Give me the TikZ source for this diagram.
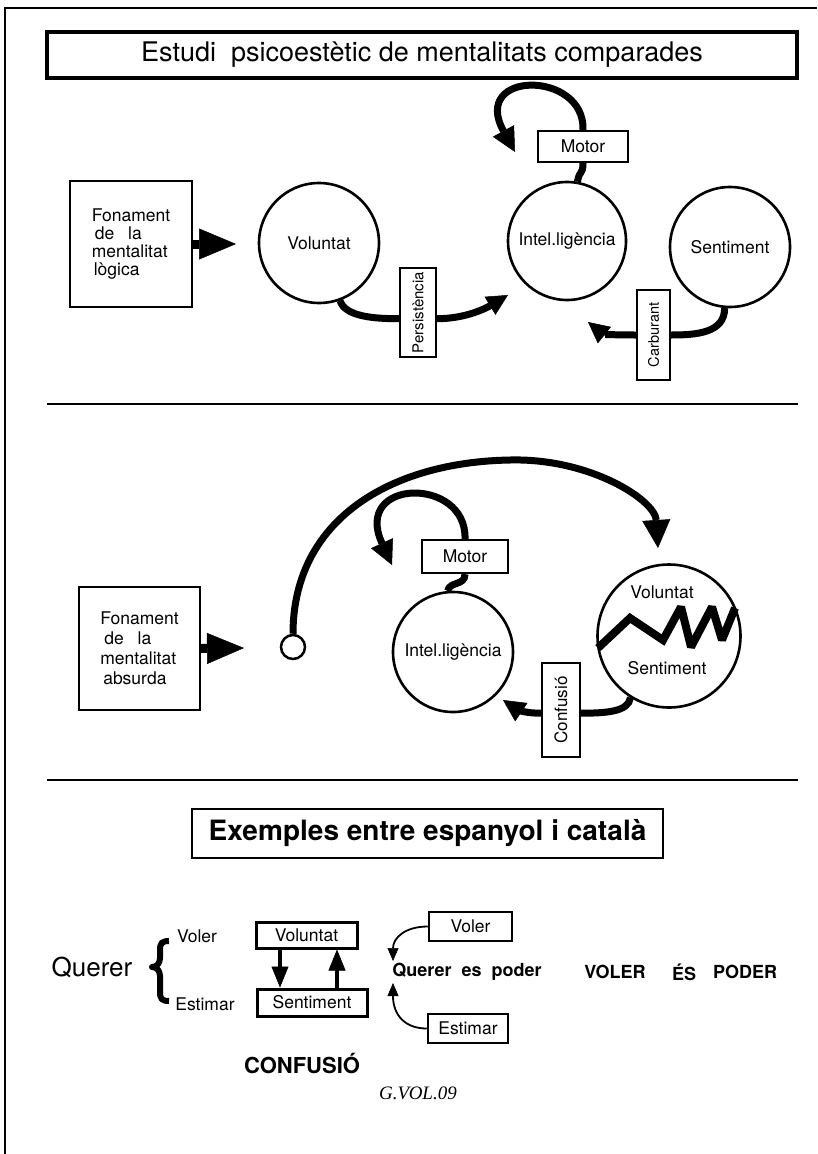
\documentclass[tikz,border=0pt]{standalone}
\usepackage{fontspec}
\setmainfont{TeX Gyre Heros}
\newfontfamily\gvolfont{Liberation Serif}
\usetikzlibrary{arrows.meta}
\begin{document}
\begin{tikzpicture}[x=1pt,y=-1pt,
  circ/.style={circle,draw,line width=2.6pt,inner sep=0pt,minimum size=#1},
  bx/.style={rectangle,draw,line width=2.2pt,inner sep=0pt,align=center},
  txt/.style={inner sep=0pt,font=\fontsize{17.5}{18}\selectfont},
  boldtxt/.style={inner sep=0pt,font=\bfseries\fontsize{18}{18}\selectfont},
  fat/.style={line width=7pt},
  fattip/.style={-{Triangle[length=#1,width=#1,line width=0.5pt]}},
  bigtri/.style={line width=9pt,-{Triangle[length=37pt,width=31pt,line width=0.5pt]}},
  thinarr/.style={line width=1.8pt,-{Triangle[length=13pt,width=11pt,line width=0.5pt]}},
  medarr/.style={line width=4pt,-{Triangle[length=21pt,width=17pt,line width=0.5pt]}},
]
\useasboundingbox (0,0) rectangle (817,1154);
\fill[white] (0,0) rectangle (817,1154);
% page edge
\draw[line width=1.5pt] (5,1154) -- (5,8) -- (817,8);

% title
\node[bx,line width=3.5pt,minimum width=750pt,minimum height=46pt,font=\fontsize{27}{30}\selectfont] (title) at (422,55) {Estudi\ \ psicoestètic de mentalitats comparades};

% ---------- section 1
\node[bx,minimum width=122pt,minimum height=126pt,align=left,font=\fontsize{17.5}{18}\selectfont] (fon1) at (131,244) {Fonament\\\hspace*{3pt}de\hspace{14pt}la\\mentalitat\\\hspace*{2pt}lògica};
\coordinate (a1) at (236,244);
\draw[bigtri] (fon1.east) -- (a1);

\node[circ=120pt,txt] (vol1) at (319,243) {Voluntat};
\node[bx,minimum width=36pt,minimum height=89pt,font=\fontsize{15}{15}\selectfont] (pers) at (418,312.5) {\rotatebox{90}{Persistència}};
\coordinate (p1) at (508,295);
\draw[fat] (vol1.-70) .. controls +(5,16) and +(-25,0) .. (pers.198);
\draw[fat,fattip=21pt] (pers.-18) .. controls +(30,0) and +(-20,12) .. (p1);

\node[circ=118pt,txt] (int1) at (567,241) {Intel.ligència};
\node[bx,minimum width=90pt,minimum height=31pt,txt] (mot1) at (583,146.5) {Motor};
\draw[fat] (int1.80) .. controls +(2,-12) and +(0,12) .. (mot1.south);
\coordinate (m1) at (515,152);
\draw[fat,fattip=24pt] (mot1.north) .. controls (585,70) and (470,70) .. (m1);

\node[circ=120pt,txt] (sen1) at (730,247) {Sentiment};
\node[bx,minimum width=33pt,minimum height=90pt,font=\fontsize{14.5}{15}\selectfont] (carb) at (653.5,335) {\rotatebox{90}{Carburant}};
\draw[fat] (sen1.-95) .. controls +(0,25) and +(25,0) .. (carb.east);
\coordinate (c1) at (588,322);
\draw[fat,fattip=21pt] (carb.west) .. controls +(-25,0) and +(15,12) .. (c1);

\draw[line width=2pt] (47,404) -- (798,404);

% ---------- section 2
\node[bx,minimum width=121pt,minimum height=123pt,align=left,font=\fontsize{17.5}{20}\selectfont] (fon2) at (139.5,648.5) {Fonament\\\hspace*{4pt}de\hspace{14pt}la\\mentalitat\\\hspace*{3pt}absurda};
\coordinate (a2) at (244,648);
\draw[bigtri] (fon2.east) -- (a2);

\node[circle,draw,line width=2.5pt,minimum size=24pt,inner sep=0pt] (sc) at (293,647) {};
\coordinate (arctop) at (510,460);
\coordinate (bt) at (658,548);
\draw[fat,fattip=28pt] (sc.north) .. controls (293,520) and (390,462) .. (arctop) .. controls (590,458) and (655,500) .. (bt);

\node[bx,minimum width=86pt,minimum height=33pt,txt] (mot2) at (465,556.5) {Motor};
\node[circ=120pt,txt] (int2) at (453,652) {Intel.ligència};
\draw[fat] (mot2.south) .. controls +(0,12) and +(2,-10) .. (int2.95);
\coordinate (m2) at (392,565);
\draw[fat,fattip=24pt] (mot2.north) .. controls (467,476) and (352,478) .. (m2);

\node[circ=143pt] (vs) at (669,636) {};
\node[txt] (vsv) at (662,592) {Voluntat};
\node[txt] (vss) at (667,668) {Sentiment};
\draw[line width=8pt,line join=miter,miter limit=2.5] (598,648) -- (630,618) -- (663,640) -- (681,607) -- (691,647) -- (712,607) -- (722,640) -- (735,608);

\node[bx,minimum width=38pt,minimum height=94pt,font=\fontsize{17}{17}\selectfont] (conf) at (561,710) {\rotatebox{90}{Confusió}};
\draw[fat] (vs.-122) .. controls +(-2,14) and +(25,0) .. (conf.-9);
\coordinate (cf) at (503,700);
\draw[fat,fattip=22pt] (conf.189) .. controls +(-20,0) and +(12,8) .. (cf);

\draw[line width=2pt] (47,780) -- (798,780);

% ---------- section 3
\node[bx,minimum width=471pt,minimum height=49pt,font=\bfseries\fontsize{28}{30}\selectfont] (ex) at (427.5,833.5) {Exemples entre espanyol i català};

\node[inner sep=0pt,font=\fontsize{26}{26}\selectfont] (querer) at (92,967) {Querer};
\draw[line width=6pt,line join=round] (169,941) .. controls (162,941) and (160,943) .. (160,950) -- (160,958) .. controls (160,963) and (157,967) .. (152,967) .. controls (157,967) and (160,971) .. (160,976) -- (160,992) .. controls (160,999) and (162,1001) .. (169,1001);
\node[txt] (volertxt) at (197,936) {Voler};
\node[txt] (estimtxt) at (205,1004) {Estimar};

\node[bx,line width=3pt,minimum width=101pt,minimum height=26pt,txt] (vb) at (306.5,935) {Voluntat};
\node[bx,line width=3pt,minimum width=110pt,minimum height=27pt,txt] (sb) at (312,1002.5) {Sentiment};
\coordinate (dnx) at (280,0);
\coordinate (upx) at (337,0);
\draw[medarr] (vb.south -| dnx) -- (sb.north -| dnx);
\draw[medarr] (sb.north -| upx) -- (vb.south -| upx);

\node[inner sep=0pt,font=\bfseries\fontsize{22}{22}\selectfont] (conftxt) at (302,1063) {CONFUSIÓ};
\node[inner sep=0pt,font=\gvolfont\itshape\fontsize{19}{19}\selectfont] (gvol) at (418,1093) {G.VOL.09};

\node[bx,line width=2.5pt,minimum width=83pt,minimum height=29pt,txt] (vlb) at (470.5,926.5) {Voler};
\node[bx,line width=2.5pt,minimum width=80pt,minimum height=29pt,txt] (esb) at (468,1028.5) {Estimar};
\node[boldtxt] (qep) at (467,972) {Querer\ \ es\ \ poder};
\node[boldtxt] (w1) at (615,972) {VOLER};
\node[boldtxt] (w2) at (684,972) {ÉS};
\node[boldtxt] (w3) at (745,972) {PODER};
\coordinate (q1) at (393,961);
\coordinate (q2) at (393,983);
\draw[thinarr] (vlb.west) .. controls (405,926.5) and (393,938) .. (q1);
\draw[thinarr] (esb.west) .. controls (405,1028.5) and (393,1015) .. (q2);
\end{tikzpicture}
\end{document}
